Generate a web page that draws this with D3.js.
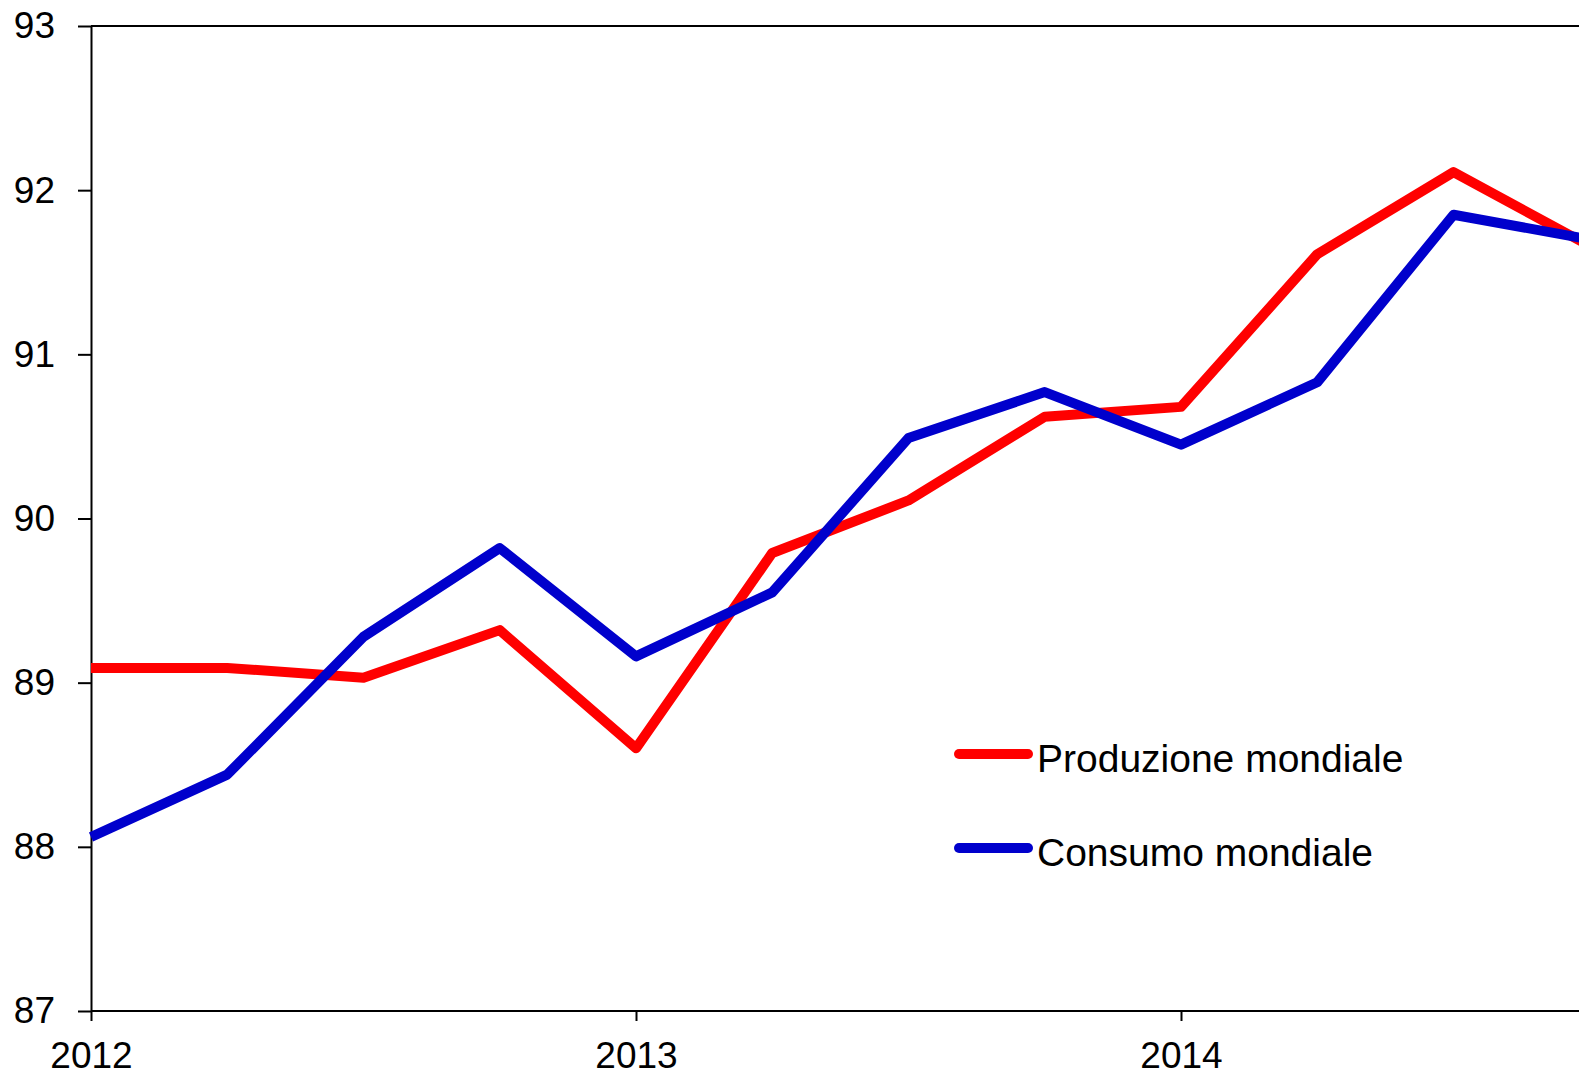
<!DOCTYPE html>
<html>
<head>
<meta charset="utf-8">
<script src="https://cdn.jsdelivr.net/npm/d3@7"></script>
<style>
  body { margin: 0; background: #fff; }
  svg { display: block; font-family: "Liberation Sans", Arial, sans-serif; }
</style>
</head>
<body>
<script>
// quarterly data, 2012 Q1 .. 2014 Q4
const periods = ["2012T1", "2012T2", "2012T3", "2012T4", "2013T1", "2013T2", "2013T3", "2013T4", "2014T1", "2014T2", "2014T3", "2014T4"];
const produzione = [89.09, 89.09, 89.03, 89.32, 88.6, 89.79, 90.11, 90.62, 90.68, 91.61, 92.11, 91.66];
const consumo = [88.06, 88.44, 89.28, 89.82, 89.16, 89.55, 90.49, 90.77, 90.45, 90.83, 91.85, 91.7];
const yearTicks = [0, 4, 8];
const yearLabels = ["2012", "2013", "2014"];
const yTicks = [87, 88, 89, 90, 91, 92, 93];

const width = 1579;
const height = 1077;
const padLeft = 91, padTop = 26, axisY = 1011;
const step = 136.25;

const svg = d3.select("body").append("svg")
  .attr("width", width)
  .attr("height", height);

const x = d3.scaleLinear()
  .domain([0, periods.length - 1])
  .range([padLeft, padLeft + step * (periods.length - 1)]);

const y = d3.scaleLinear()
  .domain([87, 93])
  .range([axisY, padTop]);

// y axis
const yaxis = d3.axisLeft(y)
  .tickValues(yTicks)
  .tickFormat(d3.format("d"))
  .tickSize(13)
  .tickSizeOuter(0)
  .tickPadding(23);
svg.append("g")
  .attr("transform", `translate(${padLeft},0)`)
  .call(yaxis);

// x axis
const xaxis = d3.axisBottom(x)
  .tickValues(yearTicks)
  .tickFormat((d, i) => yearLabels[i])
  .tickSize(10)
  .tickSizeOuter(0)
  .tickPadding(21);
const gx = svg.append("g")
  .attr("transform", `translate(0,${axisY})`)
  .call(xaxis);
gx.select(".domain").attr("d", `M${padLeft},0H${width}`);

svg.selectAll(".domain, .tick line")
  .attr("stroke", "#000")
  .attr("stroke-width", 2);
svg.selectAll(".tick text")
  .attr("font-size", 37)
  .attr("font-family", "Liberation Sans, Arial, sans-serif")
  .attr("fill", "#000");

// top frame line
svg.append("line")
  .attr("x1", padLeft)
  .attr("x2", width)
  .attr("y1", y(93))
  .attr("y2", y(93))
  .attr("stroke", "#000")
  .attr("stroke-width", 2);

// series lines
const line = d3.line()
  .x((d, i) => x(i))
  .y(d => y(d));

const series = [
  { name: "Produzione mondiale", values: produzione, color: "#ff0000" },
  { name: "Consumo mondiale", values: consumo, color: "#0000cc" }
];

svg.selectAll("path.series")
  .data(series)
  .enter()
  .append("path")
  .attr("class", "series")
  .attr("d", d => line(d.values))
  .attr("fill", "none")
  .attr("stroke", d => d.color)
  .attr("stroke-width", 10)
  .attr("stroke-linejoin", "round");

// legend
const legend = svg.selectAll("g.legend")
  .data(series)
  .enter()
  .append("g")
  .attr("class", "legend")
  .attr("transform", (d, i) => `translate(959,${754 + i * 94})`);

legend.append("line")
  .attr("x1", 0)
  .attr("x2", 69)
  .attr("stroke", d => d.color)
  .attr("stroke-width", 10)
  .attr("stroke-linecap", "round");

legend.append("text")
  .attr("x", 78)
  .attr("dy", "0.46em")
  .attr("font-size", 39)
  .attr("fill", "#000")
  .text(d => d.name);
</script>
</body>
</html>
